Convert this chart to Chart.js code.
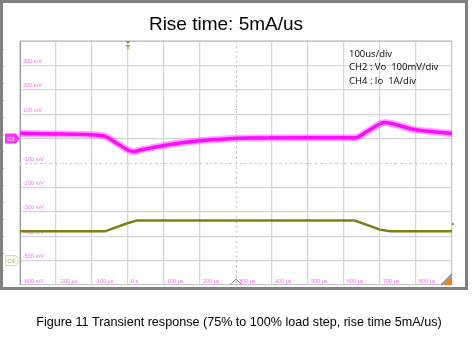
<!DOCTYPE html>
<html>
<head>
<meta charset="utf-8">
<script src="https://cdn.jsdelivr.net/npm/chart.js@4.4.0/dist/chart.umd.min.js"></script>
<style>
  html, body { margin: 0; padding: 0; background: #fff; }
  canvas { display: block; }
</style>
</head>
<body>
<canvas id="myChart" width="476" height="339"></canvas>
<script>
'use strict';

// CH2 (Vo) trace, time in us, deviation in mV (100mV/div)
const voTime = [-300, -200, -69, -30, 14, 40, 89, 140, 200, 270, 339, 478, 630, 665, 714, 750, 792, 850, 900];
const voMilliVolts = [22, 19, 12, -20, -53, -45, -31, -19, -9, -2, 2, 3, 3, 30, 66, 55, 38, 28, 21];

// CH4 (Io) trace, time in us, current in A (1A/div)
const ioTime = [-300, -64, 0, 25, 630, 700, 728, 900];
const ioAmps = [1.2, 1.2, 1.54, 1.64, 1.64, 1.27, 1.2, 1.2];

const timeTicks = [-200, -100, 0, 100, 200, 300, 400, 500, 600, 700, 800];
const voltTicks = [300, 200, 100, -100, -200, -300, -400, -500, -600];

const scopeNotes = ['100us/div', 'CH2 : Vo  100mV/div', 'CH4 : Io  1A/div'];
const chartTitle = 'Rise time: 5mA/us';
const figureCaption = 'Figure 11 Transient response (75% to 100% load step, rise time 5mA/us)';

const ctx = document.getElementById('myChart').getContext('2d');

const voPoints = voTime.map((t, i) => ({ x: t, y: voMilliVolts[i] }));
const ioPoints = ioTime.map((t, i) => ({ x: t, y: ioAmps[i] }));

const scopeDecor = {
  id: 'scopeDecor',
  beforeDraw: (chart) => {
    const { ctx } = chart;
    ctx.save();
    ctx.fillStyle = '#ffffff';
    ctx.fillRect(0, 0, chart.width, chart.height);
    // outer frame of the screenshot
    ctx.strokeStyle = '#808080';
    ctx.lineWidth = 3;
    ctx.strokeRect(1.5, 1.5, 465, 287);
    // title + caption
    ctx.fillStyle = '#000';
    ctx.textAlign = 'center';
    ctx.textBaseline = 'middle';
    ctx.font = '19px "Liberation Sans", Arial, sans-serif';
    ctx.fillText(chartTitle, 226, 25);
    ctx.font = '12.6px "Liberation Sans", Arial, sans-serif';
    ctx.fillText(figureCaption, 239, 323);
    ctx.restore();
  },
  beforeDatasetsDraw: (chart) => {
    const { ctx, chartArea: a, scales } = chart;
    const xs = scales.x, ys = scales.y;
    ctx.save();
    // plot border
    ctx.strokeStyle = '#c8c8c8';
    ctx.lineWidth = 1;
    ctx.strokeRect(a.left + 0.5, a.top + 0.5, a.right - a.left - 1, a.bottom - a.top - 1);
    ctx.strokeStyle = '#9a9a9a';
    ctx.beginPath();
    ctx.moveTo(a.left + 0.5, a.top);
    ctx.lineTo(a.left + 0.5, a.bottom);
    ctx.stroke();

    // center cross lines (dotted with small ticks)
    const cx = Math.round(xs.getPixelForValue(300)) + 0.5;
    const cy = Math.round(ys.getPixelForValue(-100)) + 0.5;
    ctx.strokeStyle = '#cdcdcd';
    ctx.setLineDash([2, 3]);
    ctx.beginPath();
    ctx.moveTo(cx, a.top); ctx.lineTo(cx, a.bottom);
    ctx.moveTo(a.left, cy); ctx.lineTo(a.right, cy);
    ctx.stroke();
    ctx.setLineDash([]);
    ctx.strokeStyle = '#d4d4d4';
    ctx.beginPath();
    for (let t = -300; t <= 900; t += 20) {
      const px = Math.round(xs.getPixelForValue(t)) + 0.5;
      ctx.moveTo(px, cy - 1); ctx.lineTo(px, cy + 1);
    }
    for (let v = -600; v <= 400; v += 20) {
      const py = Math.round(ys.getPixelForValue(v)) + 0.5;
      ctx.moveTo(cx - 1, py); ctx.lineTo(cx + 1, py);
    }
    ctx.stroke();

    // tick labels inside the screen
    ctx.fillStyle = '#ff66ff';
    ctx.font = '5.5px "Liberation Sans", Arial, sans-serif';
    ctx.textAlign = 'left';
    ctx.textBaseline = 'middle';
    voltTicks.forEach(v => {
      ctx.fillText(v + ' mV', a.left + 3, ys.getPixelForValue(v) - 4);
    });
    timeTicks.forEach(t => {
      const label = t === 0 ? '0 s' : t + ' µs';
      ctx.fillText(label, xs.getPixelForValue(t) + 3, a.bottom - 4);
    });

    // channel notes
    ctx.fillStyle = '#000';
    ctx.font = '9.5px "Open Sans", "Liberation Sans", sans-serif';
    scopeNotes.forEach((s, i) => ctx.fillText(s, 349, 54 + i * 13.5));
    ctx.restore();
  },
  afterDatasetsDraw: (chart) => {
    const { ctx, chartArea: a, scales } = chart;
    const xs = scales.x, ys = scales.y, y2 = scales.y2;
    ctx.save();
    // C2 ground marker
    const c2 = ys.getPixelForValue(0);
    ctx.fillStyle = '#ff33ff';
    ctx.beginPath();
    ctx.moveTo(5, c2 - 5); ctx.lineTo(16, c2 - 5); ctx.lineTo(20, c2);
    ctx.lineTo(16, c2 + 5); ctx.lineTo(5, c2 + 5); ctx.closePath();
    ctx.fill();
    ctx.fillStyle = '#ffd0ff';
    ctx.font = 'bold 6px "Liberation Sans", Arial, sans-serif';
    ctx.textAlign = 'center';
    ctx.textBaseline = 'middle';
    ctx.fillText('C2', 11, c2 + 0.5);

    // C4 ground marker
    const c4 = y2.getPixelForValue(0);
    ctx.fillStyle = '#fbfbef';
    ctx.strokeStyle = '#d6d6b0';
    ctx.lineWidth = 1;
    ctx.beginPath();
    ctx.moveTo(5.5, c4 - 5); ctx.lineTo(16, c4 - 5); ctx.lineTo(19.5, c4);
    ctx.lineTo(16, c4 + 5); ctx.lineTo(5.5, c4 + 5); ctx.closePath();
    ctx.fill(); ctx.stroke();
    ctx.fillStyle = '#b8b890';
    ctx.fillText('C4', 11, c4 + 0.5);

    // trigger position marker
    const tx = xs.getPixelForValue(0);
    ctx.fillStyle = '#9a9a10';
    ctx.beginPath();
    ctx.moveTo(tx - 2.5, a.top); ctx.lineTo(tx + 2.5, a.top); ctx.lineTo(tx, a.top + 3);
    ctx.closePath(); ctx.fill();
    ctx.fillRect(tx - 2, a.top + 4, 4, 1.2);
    ctx.fillRect(tx - 0.6, a.top + 4, 1.2, 4);

    // trigger level marker on right
    const tl = y2.getPixelForValue(1.5);
    ctx.fillRect(a.right, tl - 1, 2, 2);

    // center triangle at bottom
    const bx = xs.getPixelForValue(300);
    ctx.strokeStyle = '#8c8c8c';
    ctx.beginPath();
    ctx.moveTo(bx - 6, a.bottom); ctx.lineTo(bx, a.bottom - 6); ctx.lineTo(bx + 6, a.bottom);
    ctx.stroke();

    // corner logo
    ctx.fillStyle = '#f08020';
    ctx.beginPath();
    ctx.moveTo(a.right - 10, a.bottom); ctx.lineTo(a.right, a.bottom - 10); ctx.lineTo(a.right, a.bottom);
    ctx.closePath(); ctx.fill();
    ctx.strokeStyle = '#4a90d0';
    ctx.lineWidth = 1.2;
    ctx.beginPath();
    ctx.moveTo(a.right - 11, a.bottom); ctx.lineTo(a.right, a.bottom - 11);
    ctx.stroke();

    // left strip tick dots
    ctx.fillStyle = '#b0b0b0';
    for (let y = a.top + 8; y < a.bottom; y += 17) ctx.fillRect(3, y, 1, 1);
    ctx.restore();
  }
};

const config = {
  type: 'line',
  data: {
    datasets: [
      {
        label: 'Vo glow',
        data: voPoints,
        yAxisID: 'y',
        borderColor: 'rgba(255, 0, 255, 0.35)',
        borderWidth: 7,
        pointRadius: 0,
        cubicInterpolationMode: 'monotone'
      },
      {
        label: 'Vo',
        data: voPoints,
        yAxisID: 'y',
        borderColor: '#ff11ff',
        borderWidth: 3.5,
        pointRadius: 0,
        cubicInterpolationMode: 'monotone'
      },
      {
        label: 'Io',
        data: ioPoints,
        yAxisID: 'y2',
        borderColor: '#7f7f14',
        borderWidth: 2.5,
        pointRadius: 0,
        tension: 0
      }
    ]
  },
  options: {
    responsive: false,
    animation: false,
    layout: { padding: { left: 20, top: 41, right: 24, bottom: 54 } },
    plugins: {
      legend: { display: false },
      tooltip: { enabled: false },
      title: { display: false }
    },
    scales: {
      x: {
        type: 'linear',
        min: -300,
        max: 900,
        ticks: { display: false, stepSize: 100 },
        grid: {
          drawTicks: false,
          lineWidth: 1.3,
          color: c => (c.tick && c.tick.value === 300) ? 'rgba(0,0,0,0)' : '#d6d6d6'
        },
        border: { display: false }
      },
      y: {
        min: -600,
        max: 400,
        ticks: { display: false, stepSize: 100 },
        grid: {
          drawTicks: false,
          lineWidth: 1.3,
          color: c => (c.tick && c.tick.value === -100) ? 'rgba(0,0,0,0)' : '#d6d6d6'
        },
        border: { display: false }
      },
      y2: {
        display: false,
        min: -1,
        max: 9
      }
    }
  },
  plugins: [scopeDecor]
};

const myChart = new Chart(ctx, config);
</script>
</body>
</html>
